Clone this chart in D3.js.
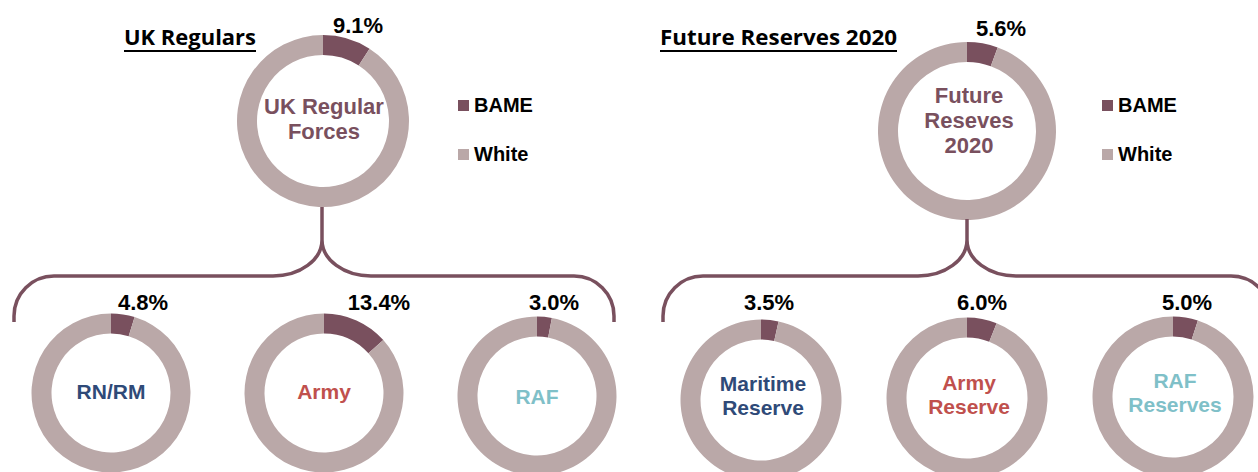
<!DOCTYPE html>
<html>
<head>
<meta charset="utf-8">
<script src="https://cdn.jsdelivr.net/npm/d3@7/dist/d3.min.js"></script>
<style>
  html, body { margin: 0; padding: 0; background: #ffffff; }
  svg { display: block; }
</style>
</head>
<body>
<svg id="chart" width="1258" height="472"></svg>
<script>
// ---------------- DATA ----------------
const panels = ["UK Regulars", "Future Reserves 2020"];
const seriesNames = ["BAME", "White"];
const topCategories = ["UK Regular Forces", "Future Reseves 2020"];
const topBame = [9.1, 5.6];
const topWhite = [90.9, 94.4];
const topLabelLines = [["UK Regular", "Forces"], ["Future", "Reseves", "2020"]];

const ukCategories = ["RN/RM", "Army", "RAF"];
const ukBame = [4.8, 13.4, 3.0];
const ukWhite = [95.2, 86.6, 97.0];
const ukLabelLines = [["RN/RM"], ["Army"], ["RAF"]];

const resCategories = ["Maritime Reserve", "Army Reserve", "RAF Reserves"];
const resBame = [3.5, 6.0, 5.0];
const resWhite = [96.5, 94.0, 95.0];
const resLabelLines = [["Maritime", "Reserve"], ["Army", "Reserve"], ["RAF", "Reserves"]];

// ---------------- STYLE ----------------
const colBame = "#79505e";
const colWhite = "#baa8a8";
const textColors = { "RN/RM": "#2f4a78", "Army": "#c0504d", "RAF": "#7fc0c8",
  "Maritime Reserve": "#2f4a78", "Army Reserve": "#c0504d", "RAF Reserves": "#7fc0c8",
  "UK Regular Forces": "#79505e", "Future Reseves 2020": "#79505e" };
const sans = "'Liberation Sans', Arial, sans-serif";
const titleFont = "'Open Sans', 'Noto Sans', sans-serif";

const svg = d3.select("#chart");

// ---------------- SCALES / LAYOUT ----------------
const topX = d3.scalePoint().domain(topCategories).range([323, 967]);
const ukX = d3.scalePoint().domain(ukCategories).range([111, 537]);
const resX = d3.scalePoint().domain(resCategories).range([761, 1173]);
const colorScale = d3.scaleOrdinal().domain(seriesNames).range([colBame, colWhite]);

const pie = d3.pie().sort(null).value(d => d.value).startAngle(0).endAngle(2 * Math.PI);

function drawDonut(cfg) {
  const g = svg.append("g").attr("transform", `translate(${cfg.cx},${cfg.cy})`);
  const arc = d3.arc().innerRadius(cfg.r - cfg.w).outerRadius(cfg.r);
  const data = seriesNames.map((s, i) => ({ series: s, value: [cfg.bame, cfg.white][i] }));
  g.selectAll("path").data(pie(data)).join("path")
    .attr("d", arc).attr("fill", d => colorScale(d.data.series));
  // percentage label
  svg.append("text")
    .attr("x", cfg.cx + cfg.pctDx).attr("y", cfg.cy + cfg.pctDy)
    .attr("text-anchor", "middle")
    .attr("font-family", sans).attr("font-weight", "bold").attr("font-size", 22)
    .attr("fill", "#000").text(d3.format(".1f")(cfg.bame) + "%");
  // centre label
  const t = svg.append("text")
    .attr("text-anchor", "middle")
    .attr("font-family", sans).attr("font-weight", "bold").attr("font-size", cfg.fs)
    .attr("fill", textColors[cfg.cat]);
  cfg.lines.forEach((ln, i) => {
    t.append("tspan").attr("x", cfg.cx + (cfg.textDx || 0))
      .attr("y", cfg.cy + cfg.textDy + i * cfg.lh).text(ln);
  });
}

// top donuts
const topCy = [121, 131], topR = [86, 89], topPctDx = [35, 34], topPctDy = [-88, -95];
const topTextDy = [-7, -28];
topCategories.forEach((c, i) => {
  drawDonut({ cat: c, cx: topX(c), cy: topCy[i], r: topR[i], w: 20, bame: topBame[i], white: topWhite[i],
    pctDx: topPctDx[i], pctDy: topPctDy[i], lines: topLabelLines[i], fs: 22, lh: 25,
    textDy: topTextDy[i], textDx: i === 0 ? 1 : 2 });
});

// bottom donuts
const ukCy = [393, 393, 396], ukPctDx = [32, 55, 17], ukTextDy = [6, 6, 8];
ukCategories.forEach((c, i) => {
  drawDonut({ cat: c, cx: ukX(c), cy: ukCy[i], r: 79.5, w: 20, bame: ukBame[i], white: ukWhite[i],
    pctDx: ukPctDx[i], pctDy: 310 - ukCy[i], lines: ukLabelLines[i], fs: 21, lh: 24, textDy: ukTextDy[i] });
});
const resCy = [400, 398, 397], resPctDx = [8, 15, 14], resTextDy = [-9, -8, -9];
resCategories.forEach((c, i) => {
  drawDonut({ cat: c, cx: resX(c), cy: resCy[i], r: 80.5, w: 20, bame: resBame[i], white: resWhite[i],
    pctDx: resPctDx[i], pctDy: 310 - resCy[i], lines: resLabelLines[i], fs: 21, lh: 24,
    textDy: resTextDy[i], textDx: 2 });
});

// braces
function drawBrace(cx, topY, left, right) {
  const yH = 276, yEnd = 322, r1 = 40, rx = 49, ry = 36;
  const d = `M${left},${yEnd} L${left},${yH + r1} A${r1},${r1} 0 0 1 ${left + r1},${yH}` +
    ` L${cx - rx},${yH} A${rx},${ry} 0 0 0 ${cx},${yH - ry} L${cx},${topY}` +
    ` M${cx},${yH - ry} A${rx},${ry} 0 0 0 ${cx + rx},${yH} L${right - r1},${yH}` +
    ` A${r1},${r1} 0 0 1 ${right},${yH + r1} L${right},${yEnd}`;
  svg.append("path").attr("d", d).attr("fill", "none")
    .attr("stroke", colBame).attr("stroke-width", 3.5).attr("stroke-linecap", "butt");
}
drawBrace(322, 207, 14, 614);
drawBrace(967, 219, 663, 1271);

// titles
const titleX = [124, 660];
const titleW = [132, 237];
panels.forEach((p, i) => {
  svg.append("text").attr("x", titleX[i]).attr("y", 45)
    .attr("font-family", titleFont).attr("font-weight", "bold").attr("font-size", 21)
    .attr("textLength", titleW[i]).attr("lengthAdjust", "spacingAndGlyphs")
    .attr("fill", "#000").text(p);
  svg.append("line").attr("x1", titleX[i]).attr("x2", titleX[i] + titleW[i])
    .attr("y1", 51).attr("y2", 51).attr("stroke", "#000").attr("stroke-width", 2);
});

// legends
const legendX = [458, 1102];
legendX.forEach(lx => {
  seriesNames.forEach((s, j) => {
    svg.append("rect").attr("x", lx).attr("y", 100 + j * 49).attr("width", 11).attr("height", 11)
      .attr("fill", colorScale(s));
    svg.append("text").attr("x", lx + 16).attr("y", 112 + j * 49)
      .attr("font-family", sans).attr("font-weight", "bold").attr("font-size", 20)
      .attr("fill", "#000").text(s);
  });
});
</script>
</body>
</html>
